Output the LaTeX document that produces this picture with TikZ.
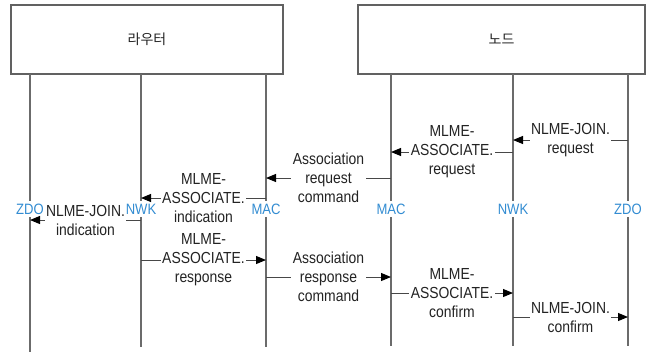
\documentclass[tikz,border=0pt]{standalone}
\usepackage{fontspec}
\setmainfont[FakeStretch=0.87]{Liberation Sans}
\newfontfamily\krfont{Noto Sans CJK KR}
\usetikzlibrary{arrows.meta}
\definecolor{layerblue}{RGB}{50,140,210}
\definecolor{txt}{RGB}{35,35,35}
\begin{document}
\begin{tikzpicture}[x=1pt,y=-1pt,
  box/.style={draw=black!62, line width=1.4pt, fill=white, minimum height=69pt, font=\krfont\fontsize{14}{16}\selectfont, text=txt},
  life/.style={draw=black!58, line width=1.2pt},
  layer/.style={fill=white, text=layerblue, font=\fontsize{15}{16}\selectfont, inner xsep=1pt, inner ysep=2.5pt},
  msg/.style={draw=black!72, line width=1pt, -{Triangle[length=10pt,width=8pt,color=black]}},
  lab/.style={fill=white, align=center, text=txt, font=\fontsize{16}{19}\selectfont, inner xsep=1.5pt, inner ysep=0pt}]
\useasboundingbox (0,0) rectangle (656,354);
% boxes
\node[box, minimum width=272pt] (router) at (147,39.5) {라우터};
\node[box, minimum width=287pt] (node) at (501.5,39.5) {노드};
% lifeline coordinates
\coordinate (zdoLt) at (30,74);  \coordinate (zdoLb) at (30,352);
\coordinate (nwkLt) at (141,74); \coordinate (nwkLb) at (141,347);
\coordinate (macLt) at (266,74); \coordinate (macLb) at (266,347);
\coordinate (macRt) at (391,74); \coordinate (macRb) at (391,346);
\coordinate (nwkRt) at (513,74); \coordinate (nwkRb) at (513,346);
\coordinate (zdoRt) at (628,74); \coordinate (zdoRb) at (628,346);
\foreach \l in {zdoL,nwkL,macL,macR,nwkR,zdoR}{\draw[life] (\l t) -- (\l b);}
% layer labels
\node[layer] (zdoL) at (30,209) {ZDO};
\node[layer] (nwkL) at (141,209) {NWK};
\node[layer] (macL) at (266,209) {MAC};
\node[layer] (macR) at (391,209) {MAC};
\node[layer] (nwkR) at (513,209) {NWK};
\node[layer] (zdoR) at (628,209) {ZDO};
% message rows
\coordinate (y1) at (0,140);
\coordinate (y2) at (0,152);
\coordinate (y3) at (0,178);
\coordinate (y4) at (0,198);
\coordinate (y5) at (0,220);
\coordinate (y6) at (0,260);
\coordinate (y7) at (0,277);
\coordinate (y8) at (0,293);
\coordinate (y9) at (0,317);
% messages
\draw[msg] (zdoRt |- y1) -- node[lab] {NLME-JOIN.\\request} (nwkRt |- y1);
\draw[msg] (nwkRt |- y2) -- node[lab] {MLME-\\ASSOCIATE.\\request} (macRt |- y2);
\draw[msg] (macRt |- y3) -- node[lab] {Association\\request\\command} (macLt |- y3);
\draw[msg] (macLt |- y4) -- node[lab] {MLME-\\ASSOCIATE.\\indication} (nwkLt |- y4);
\draw[msg] (nwkLt |- y5) -- node[lab] {NLME-JOIN.\\indication} (zdoLt |- y5);
\draw[msg] (nwkLt |- y6) -- node[lab] {MLME-\\ASSOCIATE.\\response} (macLt |- y6);
\draw[msg] (macLt |- y7) -- node[lab] {Association\\response\\command} (macRt |- y7);
\draw[msg] (macRt |- y8) -- node[lab] {MLME-\\ASSOCIATE.\\confirm} (nwkRt |- y8);
\draw[msg] (nwkRt |- y9) -- node[lab] {NLME-JOIN.\\confirm} (zdoRt |- y9);
\end{tikzpicture}
\end{document}
